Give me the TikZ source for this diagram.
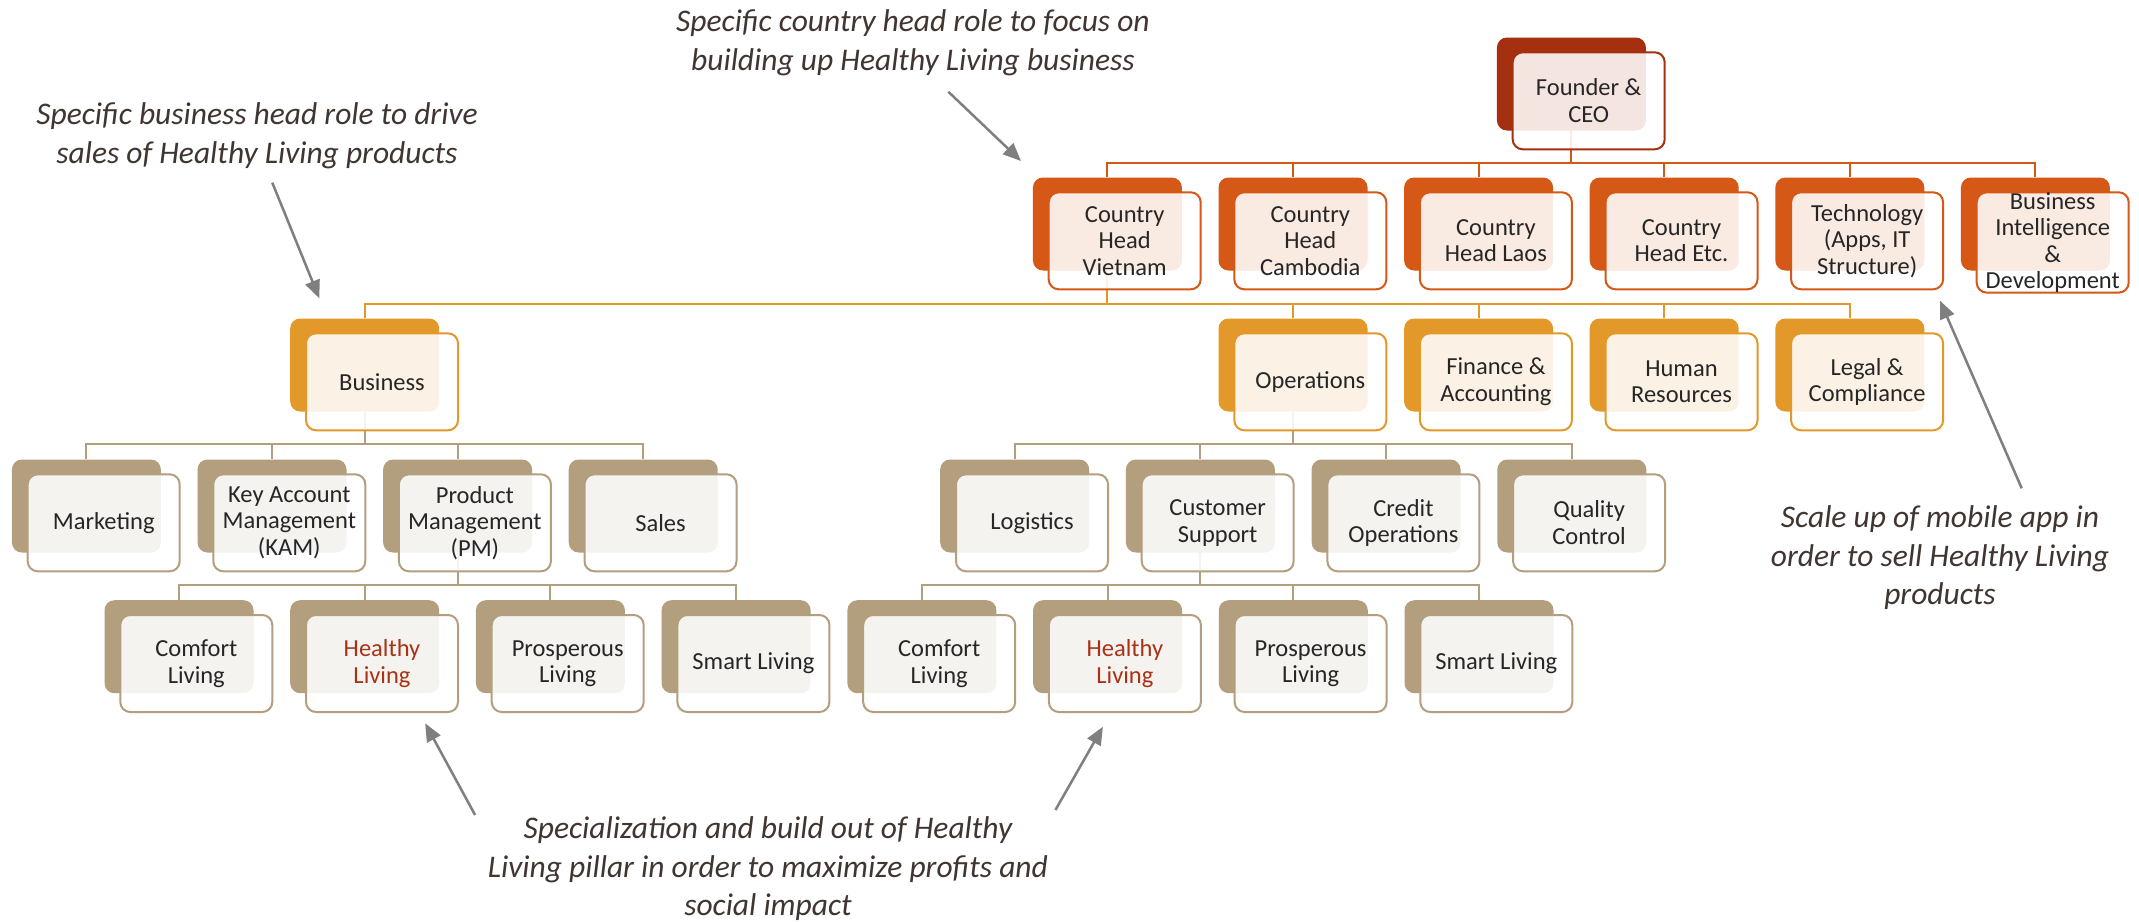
\documentclass[tikz,border=0pt]{standalone}
\usepackage{fontspec}
\setmainfont{Carlito}
\usetikzlibrary{arrows.meta}
\pgfdeclarelayer{bg}
\pgfsetlayers{bg,main}

\definecolor{cA}{HTML}{A5300F}
\definecolor{cB}{HTML}{D55816}
\definecolor{cC}{HTML}{E2992A}
\definecolor{cD}{HTML}{B39E7E}
\definecolor{txt}{HTML}{262626}
\definecolor{hl}{HTML}{A83215}
\definecolor{ann}{HTML}{403530}
\definecolor{arr}{HTML}{7F7F7F}

\tikzset{
 backbox/.style={anchor=north west, minimum width=149pt, minimum height=93pt, inner sep=0pt,
   rounded corners=10pt, fill=#1, draw=none},
 frontbox/.style={anchor=north west, minimum width=152pt, minimum height=97pt, inner sep=0pt,
   rounded corners=10pt, draw=#1, line width=2pt, fill=white, fill opacity=0.88, text opacity=1,
   text=txt, align=center, font=\fontsize{24.5}{26.5}\selectfont},
 conn/.style={draw=#1, line width=2pt},
 annot/.style={text=ann, align=center, font=\itshape\fontsize{31.5}{38.5}\selectfont},
 pointer/.style={draw=arr, line width=2.5pt, -{Triangle[length=18pt,width=15pt]}}
}

\newcommand{\orgnode}[6][]{%
 \node[backbox=#5] (#2-b) at (#3,#4) {};
 \node[frontbox=#5,#1] (#2) at (#3+15,#4+14) {#6};
}

\begin{document}
\begin{tikzpicture}[x=1pt,y=-1pt]
\useasboundingbox (0,0) rectangle (2139,921);

% level 1
\orgnode{ceo}{1496.7}{37.3}{cA}{Founder \&\\CEO}
% level 2
\orgnode{vn}{1032.7}{177.3}{cB}{Country\\Head\\Vietnam}
\orgnode{kh}{1218.3}{177.3}{cB}{Country\\Head\\Cambodia}
\orgnode{la}{1403.9}{177.3}{cB}{Country\\Head Laos}
\orgnode{etc}{1589.5}{177.3}{cB}{Country\\Head Etc.}
\orgnode{tech}{1775.1}{177.3}{cB}{Technology\\(Apps, IT\\Structure)}
\orgnode{bi}{1960.7}{177.3}{cB}{Business\\Intelligence\\\&\\Development}
% level 3
\orgnode{bus}{290}{318.3}{cC}{Business}
\orgnode{ops}{1218.3}{318.3}{cC}{Operations}
\orgnode{fin}{1403.9}{318.3}{cC}{Finance \&\\Accounting}
\orgnode{hr}{1589.5}{318.3}{cC}{Human\\Resources}
\orgnode{legal}{1775.1}{318.3}{cC}{Legal \&\\Compliance}
% level 4
\orgnode{mkt}{11.7}{459.3}{cD}{Marketing}
\orgnode{kam}{197.3}{459.3}{cD}{Key Account\\Management\\(KAM)}
\orgnode{pm}{382.9}{459.3}{cD}{Product\\Management\\(PM)}
\orgnode{sales}{568.5}{459.3}{cD}{Sales}
\orgnode{log}{940}{459.3}{cD}{Logistics}
\orgnode{cs}{1125.7}{459.3}{cD}{Customer\\Support}
\orgnode{credit}{1311.4}{459.3}{cD}{Credit\\Operations}
\orgnode{qc}{1497.1}{459.3}{cD}{Quality\\Control}
% level 5
\orgnode{pcl}{104.3}{600}{cD}{Comfort\\Living}
\orgnode[text=hl]{phl}{290}{600}{cD}{Healthy\\Living}
\orgnode{ppl}{475.7}{600}{cD}{Prosperous\\Living}
\orgnode{psl}{661.4}{600}{cD}{Smart Living}
\orgnode{ccl}{847.2}{600}{cD}{Comfort\\Living}
\orgnode[text=hl]{chl}{1032.9}{600}{cD}{Healthy\\Living}
\orgnode{cpl}{1218.6}{600}{cD}{Prosperous\\Living}
\orgnode{csl}{1404.3}{600}{cD}{Smart Living}

\begin{pgfonlayer}{bg}
\fill[white] (0,0) rectangle (2139,921);
\foreach \ch in {vn,kh,la,etc,tech,bi}
  \draw[conn=cB] (ceo-b.south) -- ++(0,32) -| (\ch-b.north);
\foreach \ch in {bus,ops,fin,hr,legal}
  \draw[conn=cC] (vn-b.south) -- ++(0,33) -| (\ch-b.north);
\foreach \ch in {mkt,kam,pm,sales}
  \draw[conn=cD] (bus-b.south) -- ++(0,32) -| (\ch-b.north);
\foreach \ch in {log,cs,credit,qc}
  \draw[conn=cD] (ops-b.south) -- ++(0,32) -| (\ch-b.north);
\foreach \ch in {pcl,phl,ppl,psl}
  \draw[conn=cD] (pm-b.south) -- ++(0,32) -| (\ch-b.north);
\foreach \ch in {ccl,chl,cpl,csl}
  \draw[conn=cD] (cs-b.south) -- ++(0,32) -| (\ch-b.north);
\end{pgfonlayer}

% annotations
\node[annot] (t1) at (913,43) {Specific country head role to focus on\\building up Healthy Living business};
\node[annot] (t2) at (257,136) {Specific business head role to drive\\sales of Healthy Living products};
\node[annot] (t3) at (1940,558) {Scale up of mobile app in\\order to sell Healthy Living\\products};
\node[annot] (t4) at (768,869) {Specialization and build out of Healthy\\Living pillar in order to maximize profits and\\social impact};

\coordinate (a1s) at (948.3,91.7);  \coordinate (a1e) at (1021,161);
\coordinate (a2s) at (272.3,182.7); \coordinate (a2e) at (319.3,298.3);
\coordinate (a3s) at (2021.7,488.3);\coordinate (a3e) at (1940,300.7);
\coordinate (a4s) at (475.1,815);   \coordinate (a4e) at (425.2,723.3);
\coordinate (a5s) at (1055.4,810);  \coordinate (a5e) at (1102.9,726.7);
\draw[pointer] (a1s) -- (a1e);
\draw[pointer] (a2s) -- (a2e);
\draw[pointer] (a3s) -- (a3e);
\draw[pointer] (a4s) -- (a4e);
\draw[pointer] (a5s) -- (a5e);
\end{tikzpicture}
\end{document}
